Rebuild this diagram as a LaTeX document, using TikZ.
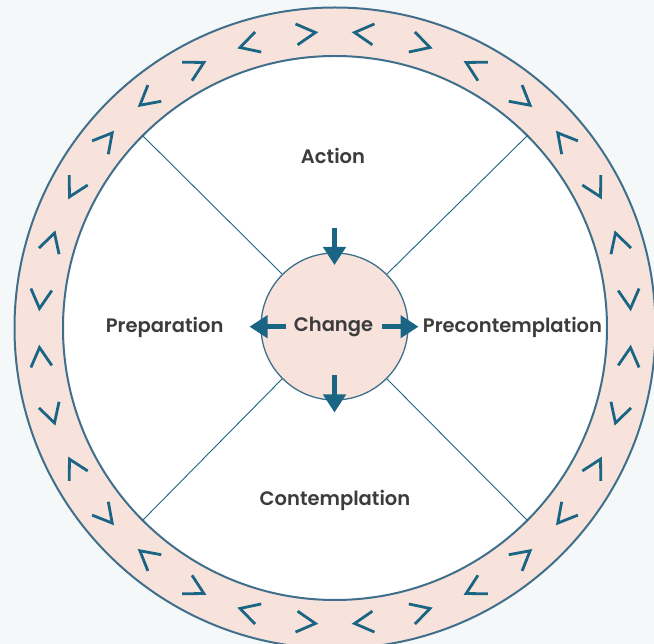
\documentclass[tikz,border=0pt]{standalone}
\usepackage{fontspec}
\setmainfont{Poppins}[UprightFont={* SemiBold}]
\usetikzlibrary{arrows.meta}
\definecolor{bg}{HTML}{F4F8F9}
\definecolor{ringfill}{HTML}{F8E3DC}
\definecolor{rim}{HTML}{3F6F8B}
\definecolor{chev}{HTML}{1B6584}
\definecolor{txt}{HTML}{3C3C3C}
\begin{document}
\begin{tikzpicture}[x=1pt,y=1pt,
  disc/.style={circle,inner sep=0pt,draw=rim},
  spoke/.style={draw=chev,line width=0.9pt},
  chevron/.style={draw=chev,line width=2.8pt,line join=miter},
  bigarrow/.style={draw=chev,line width=4.7pt,-{Triangle[width=22pt,length=18pt]}},
  label/.style={text=txt,font=\fontsize{19.5}{23}\selectfont,inner sep=0pt}]
\fill[bg] (0,0) rectangle (654,-644);
\useasboundingbox (0,0) rectangle (654,-644);
\coordinate (C) at (335,-328);
\node[disc,fill=ringfill,line width=2pt,minimum size=641pt] (outer) at (C) {};
\node[disc,fill=white,line width=2pt,minimum size=544pt] (inner) at (C) {};
% chevrons
\foreach \k in {0,...,31}{
  \pgfmathsetmacro\a{5.625+11.25*\k}
  \pgfmathsetmacro\s{1-2*mod(\k+1,2)}
  \begin{scope}[shift={(C)},rotate=\a]
    \draw[chevron] (296+10.5,-9.5*\s) -- (296,9.5*\s) -- (296-10.5,-9.5*\s);
  \end{scope}
}
\node[disc,fill=ringfill,line width=1.3pt,minimum size=147pt] (hub) at (334.5,-326.5) {};
\foreach \ang in {45,135,225,315}{
  \draw[spoke] (hub.\ang) -- (inner.\ang);
}
\node[label] (change) at (333.5,-327) {Change};
\node[label] (action) at (333,-155.5) {Action};
\node[label] (prep) at (164.6,-327) {Preparation};
\node[label] (precon) at (512.5,-327) {Precontemplation};
\node[label] (contem) at (335,-500) {Contemplation};
\coordinate (t0) at (334.5,-228);
\coordinate (t1) at (334.5,-265);
\coordinate (b0) at (334.5,-375);
\coordinate (b1) at (334.5,-412.5);
\coordinate (l0) at (286,-326.7);
\coordinate (l1) at (249.5,-326.7);
\coordinate (r0) at (382.3,-326.7);
\coordinate (r1) at (418.5,-326.7);
\draw[bigarrow] (t0) -- (t1);
\draw[bigarrow] (b0) -- (b1);
\draw[bigarrow] (l0) -- (l1);
\draw[bigarrow] (r0) -- (r1);
\end{tikzpicture}
\end{document}
